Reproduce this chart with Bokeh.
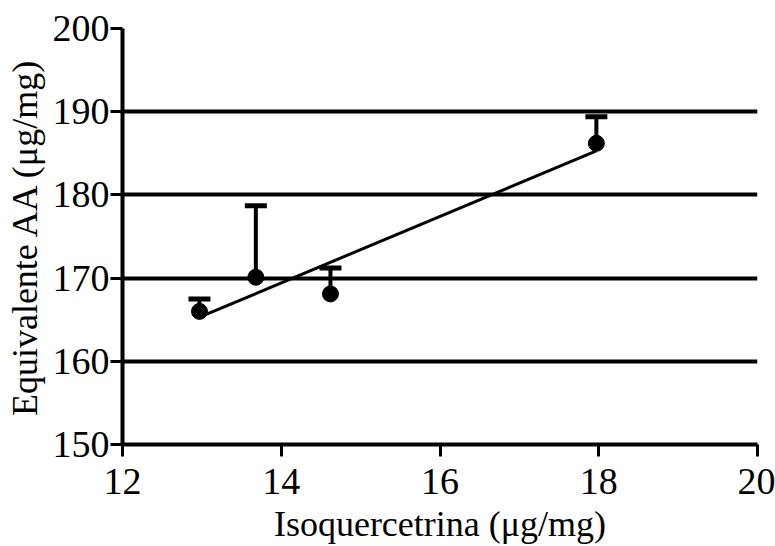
from bokeh.plotting import figure
from bokeh.models import Range1d, FixedTicker, Whisker, TeeHead, ColumnDataSource
from bokeh.embed import file_html
from bokeh.resources import INLINE

# Data
iso = [12.97, 13.68, 14.62, 17.97]          # Isoquercetrina (µg/mg)
aa = [166.0, 170.1, 168.1, 186.2]           # Equivalente AA (µg/mg)
aa_upper = [167.5, 178.7, 171.2, 189.4]     # upper error bar
fit_x = [12.97, 17.97]
fit_y = [165.3, 185.3]
x_ticks = [12, 14, 16, 18, 20]
y_ticks = [150, 160, 170, 180, 190, 200]

W, H = 775, 546
p = figure(width=W, height=H, output_backend="svg", toolbar_location=None,
           x_range=Range1d(12, 20), y_range=Range1d(150, 200))
p.min_border_left = 122
p.min_border_top = 28
p.min_border_right = W - 757
p.min_border_bottom = H - 444
p.outline_line_color = None
p.background_fill_color = "white"

FONT = "Liberation Serif"
for ax in (p.xaxis[0], p.yaxis[0]):
    ax.axis_line_width = 4
    ax.axis_line_color = "black"
    ax.major_tick_line_width = 3
    ax.major_tick_line_color = "black"
    ax.major_tick_out = 12
    ax.major_tick_in = 0
    ax.minor_tick_line_color = None
    ax.major_label_text_font = FONT
    ax.major_label_text_font_size = "38px"
    ax.major_label_text_color = "black"
    ax.axis_label_text_font = FONT
    ax.axis_label_text_font_size = "36px"
    ax.axis_label_text_font_style = "normal"
    ax.axis_label_text_color = "black"

p.xaxis.ticker = FixedTicker(ticks=x_ticks)
p.yaxis.ticker = FixedTicker(ticks=y_ticks)
p.xaxis.axis_label = "Isoquercetrina (μg/mg)"
p.yaxis.axis_label = "Equivalente AA (μg/mg)"
p.xaxis.major_label_standoff = 12
p.yaxis.major_label_standoff = 1
p.xaxis.axis_label_standoff = 7
p.yaxis.axis_label_standoff = 5

p.xgrid.grid_line_color = None
p.ygrid.grid_line_color = "black"
p.ygrid.grid_line_width = 4

src = ColumnDataSource(dict(x=iso, y=aa, upper=aa_upper))
p.add_layout(Whisker(source=src, base="x", upper="upper", lower="y",
                     line_width=4, line_color="black",
                     upper_head=TeeHead(size=22, line_width=5, line_color="black"),
                     lower_head=None))
p.line(fit_x, fit_y, line_width=3, line_color="black")
p.scatter("x", "y", source=src, size=16, color="black")

open("out.html", "w").write(file_html(p, INLINE))
